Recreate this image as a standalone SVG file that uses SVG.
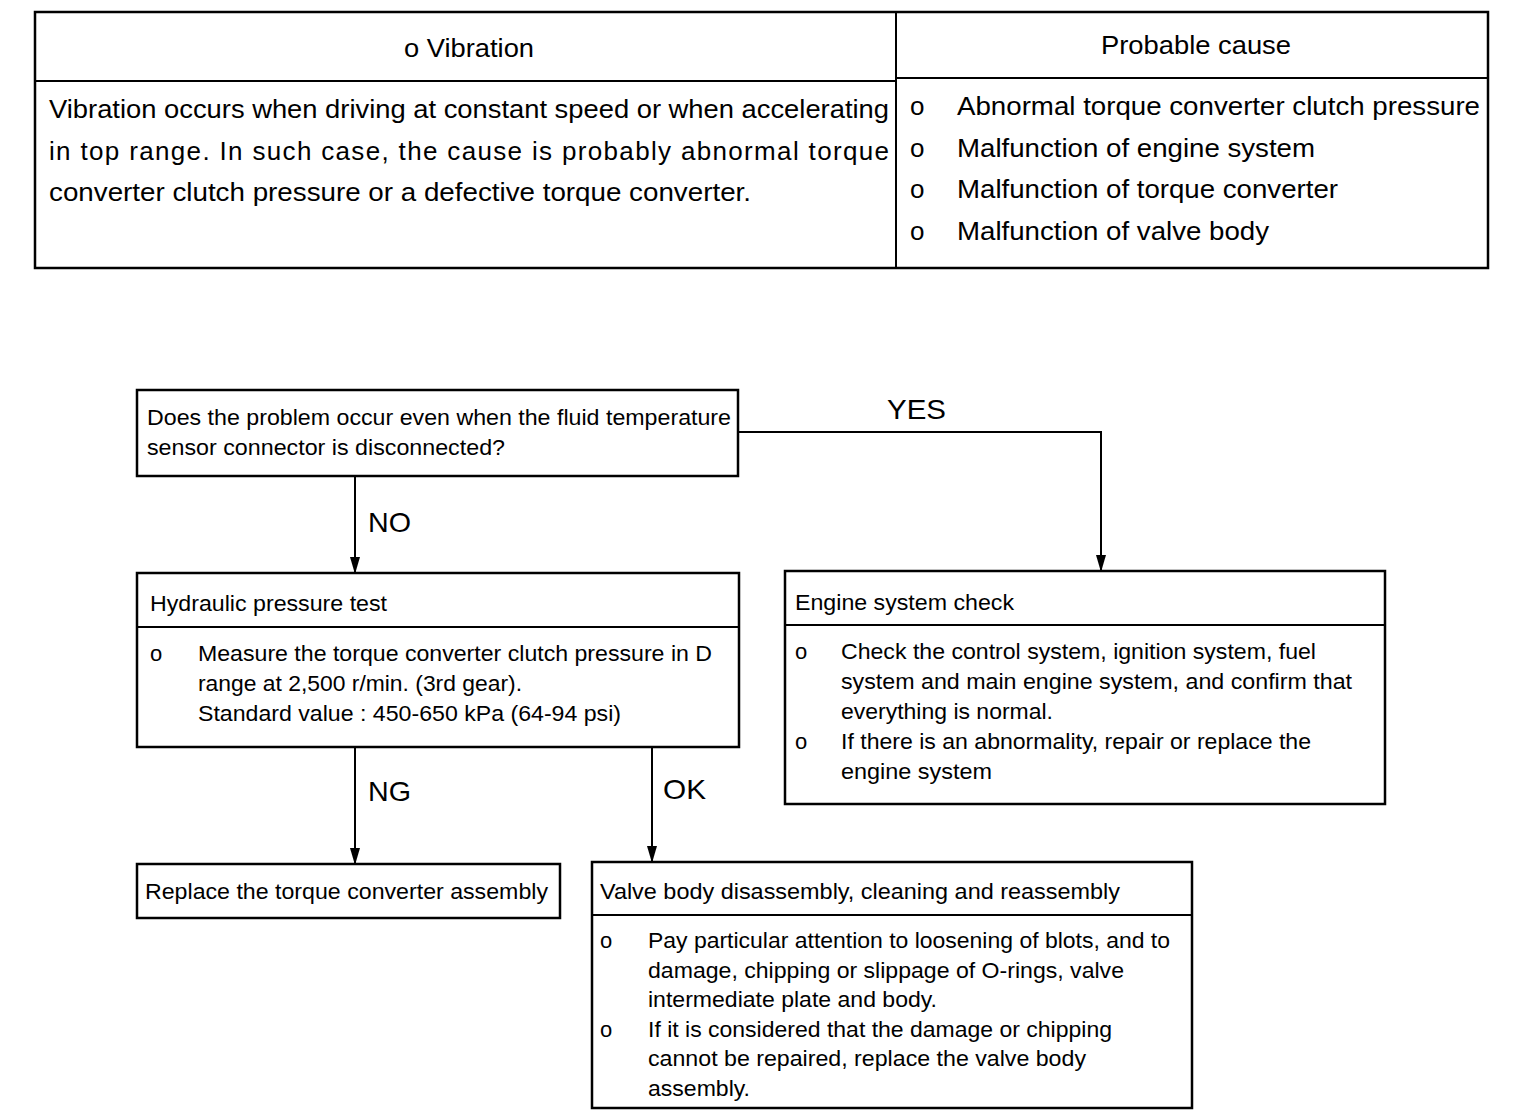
<svg xmlns="http://www.w3.org/2000/svg" width="1536" height="1120" viewBox="0 0 1536 1120">
<defs>
<style>
text{font-family:"Liberation Sans",Arial,sans-serif;fill:#000}
.t{font-size:26px}
.f{font-size:22px}
.lb{font-size:28px}
.box{fill:#fff;stroke:#000;stroke-width:2.5}
.ln{fill:none;stroke:#000;stroke-width:2}
</style>
<marker id="ah" markerWidth="17" markerHeight="10" refX="16" refY="5" orient="auto" markerUnits="userSpaceOnUse" viewBox="0 0 17 10">
<path d="M0,0 L17,5 L0,10 Z" fill="#000"/>
</marker>
</defs>
<rect width="1536" height="1120" fill="#fff"/>
<g id="table">
<rect class="box" x="35" y="12" width="1453" height="256"/>
<line class="ln" x1="35" y1="81" x2="896" y2="81" stroke-width="2.5"/>
<line class="ln" x1="896" y1="78" x2="1488" y2="78" stroke-width="2.5"/>
<line class="ln" x1="896" y1="12" x2="896" y2="268" stroke-width="2"/>
<text class="t" x="404" y="57" textLength="130" lengthAdjust="spacingAndGlyphs">o Vibration</text>
<text class="t" x="1101" y="54" textLength="190" lengthAdjust="spacingAndGlyphs">Probable cause</text>
<text class="t" x="49" y="118" textLength="840" lengthAdjust="spacingAndGlyphs">Vibration occurs when driving at constant speed or when accelerating</text>
<text class="t" x="49" y="160" textLength="840" lengthAdjust="spacing">in top range. In such case, the cause is probably abnormal torque</text>
<text class="t" x="49" y="201" textLength="702" lengthAdjust="spacingAndGlyphs">converter clutch pressure or a defective torque converter.</text>
<text class="t" x="910" y="115">o</text><text class="t" x="957" y="115" textLength="523" lengthAdjust="spacingAndGlyphs">Abnormal torque converter clutch pressure</text>
<text class="t" x="910" y="157">o</text><text class="t" x="957" y="157" textLength="358" lengthAdjust="spacingAndGlyphs">Malfunction of engine system</text>
<text class="t" x="910" y="198">o</text><text class="t" x="957" y="198" textLength="381" lengthAdjust="spacingAndGlyphs">Malfunction of torque converter</text>
<text class="t" x="910" y="240">o</text><text class="t" x="957" y="240" textLength="312" lengthAdjust="spacingAndGlyphs">Malfunction of valve body</text>
</g>
<g id="connectors">
<polyline class="ln" points="738,432 1101,432 1101,571" marker-end="url(#ah)"/>
<line class="ln" x1="355" y1="476" x2="355" y2="573" marker-end="url(#ah)"/>
<line class="ln" x1="355" y1="747" x2="355" y2="864" marker-end="url(#ah)"/>
<line class="ln" x1="652" y1="747" x2="652" y2="862" marker-end="url(#ah)"/>
<text class="lb" x="887" y="419" textLength="59" lengthAdjust="spacingAndGlyphs">YES</text>
<text class="lb" x="368" y="532" textLength="43" lengthAdjust="spacingAndGlyphs">NO</text>
<text class="lb" x="368" y="801" textLength="43" lengthAdjust="spacingAndGlyphs">NG</text>
<text class="lb" x="663" y="799" textLength="43" lengthAdjust="spacingAndGlyphs">OK</text>
</g>
<g id="decision">
<rect class="box" x="137" y="390" width="601" height="86"/>
<text class="f" x="147" y="425" textLength="584" lengthAdjust="spacingAndGlyphs">Does the problem occur even when the fluid temperature</text>
<text class="f" x="147" y="455" textLength="358" lengthAdjust="spacingAndGlyphs">sensor connector is disconnected?</text>
</g>
<g id="hydraulic">
<rect class="box" x="137" y="573" width="602" height="174"/>
<line class="ln" x1="137" y1="627" x2="739" y2="627"/>
<text class="f" x="150" y="611" textLength="237" lengthAdjust="spacingAndGlyphs">Hydraulic pressure test</text>
<text class="f" x="150" y="661">o</text>
<text class="f" x="198" y="661" textLength="514" lengthAdjust="spacingAndGlyphs">Measure the torque converter clutch pressure in D</text>
<text class="f" x="198" y="691" textLength="324" lengthAdjust="spacingAndGlyphs">range at 2,500 r/min. (3rd gear).</text>
<text class="f" x="198" y="721" textLength="423" lengthAdjust="spacingAndGlyphs">Standard value : 450-650 kPa (64-94 psi)</text>
</g>
<g id="engine">
<rect class="box" x="785" y="571" width="600" height="233"/>
<line class="ln" x1="785" y1="625" x2="1385" y2="625"/>
<text class="f" x="795" y="610" textLength="219" lengthAdjust="spacingAndGlyphs">Engine system check</text>
<text class="f" x="795" y="659">o</text>
<text class="f" x="841" y="659" textLength="475" lengthAdjust="spacingAndGlyphs">Check the control system, ignition system, fuel</text>
<text class="f" x="841" y="689" textLength="511" lengthAdjust="spacingAndGlyphs">system and main engine system, and confirm that</text>
<text class="f" x="841" y="719" textLength="212" lengthAdjust="spacingAndGlyphs">everything is normal.</text>
<text class="f" x="795" y="749">o</text>
<text class="f" x="841" y="749" textLength="470" lengthAdjust="spacingAndGlyphs">If there is an abnormality, repair or replace the</text>
<text class="f" x="841" y="779" textLength="151" lengthAdjust="spacingAndGlyphs">engine system</text>
</g>
<g id="replace">
<rect class="box" x="137" y="864" width="423" height="54"/>
<text class="f" x="145" y="899" textLength="403" lengthAdjust="spacingAndGlyphs">Replace the torque converter assembly</text>
</g>
<g id="valve">
<rect class="box" x="592" y="862" width="600" height="246"/>
<line class="ln" x1="592" y1="915" x2="1192" y2="915"/>
<text class="f" x="600" y="899" textLength="520" lengthAdjust="spacingAndGlyphs">Valve body disassembly, cleaning and reassembly</text>
<text class="f" x="600" y="948">o</text>
<text class="f" x="648" y="948" textLength="522" lengthAdjust="spacingAndGlyphs">Pay particular attention to loosening of blots, and to</text>
<text class="f" x="648" y="978" textLength="476" lengthAdjust="spacingAndGlyphs">damage, chipping or slippage of O-rings, valve</text>
<text class="f" x="648" y="1007" textLength="289" lengthAdjust="spacingAndGlyphs">intermediate plate and body.</text>
<text class="f" x="600" y="1037">o</text>
<text class="f" x="648" y="1037" textLength="464" lengthAdjust="spacingAndGlyphs">If it is considered that the damage or chipping</text>
<text class="f" x="648" y="1066" textLength="438" lengthAdjust="spacingAndGlyphs">cannot be repaired, replace the valve body</text>
<text class="f" x="648" y="1096" textLength="102" lengthAdjust="spacingAndGlyphs">assembly.</text>
</g>
</svg>
